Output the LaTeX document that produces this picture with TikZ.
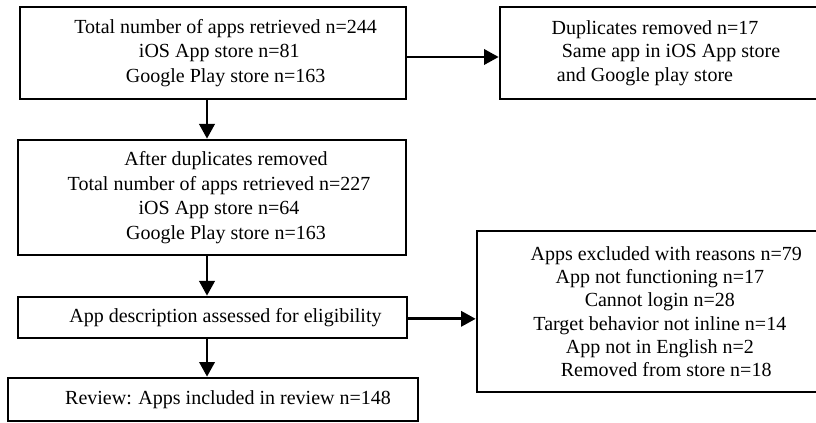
\documentclass[tikz,border=0pt]{standalone}
\usepackage{fontspec}
\setmainfont{Liberation Serif}
\usetikzlibrary{arrows.meta}
\newcommand{\shiftln}[2]{\hspace*{#1}#2\hspace*{-#1}}
\tikzset{
  flowbox/.style={draw, line width=2pt, align=center, inner sep=0pt,
    font=\fontsize{15}{18.5}\selectfont},
  sidebox/.style={flowbox, font=\fontsize{15}{17.5}\selectfont},
  flowarrow/.style={line width=2pt, -{Triangle[length=11pt,width=11.5pt]}}
}
\begin{document}
\begin{tikzpicture}[x=.75pt,y=-.75pt]
\useasboundingbox (0,0) rectangle (816,423);
\clip (0,0) rectangle (816,423);
% main column
\node[flowbox,minimum width=289.5pt,minimum height=69pt] (total) at (213,53)
  {\shiftln{9.5pt}{Total number of apps retrieved n=244}\\
   \shiftln{9.5pt}{iOS App store n=81}\\
   \shiftln{9.5pt}{Google Play store n=163}};
\node[flowbox,minimum width=291pt,minimum height=86.25pt] (dedup) at (212,197.5)
  {\shiftln{10.5pt}{After duplicates removed}\\
   \shiftln{10.5pt}{Total number of apps retrieved n=227}\\
   \shiftln{10.5pt}{iOS App store n=64}\\
   \shiftln{10.5pt}{Google Play store n=163}};
\node[flowbox,minimum width=291.75pt,minimum height=30.75pt] (desc) at (212.5,317.5)
  {\shiftln{9.75pt}{App description assessed for eligibility}};
\node[flowbox,minimum width=307.5pt,minimum height=32.25pt] (review) at (213,399.5)
  {\shiftln{11.25pt}{Review: Apps included in review n=148}};
% side boxes
\node[sidebox,minimum width=247.5pt,minimum height=69pt] (dup) at (665,53)
  {\shiftln{-7.5pt}{Duplicates removed n=17}\\
   \shiftln{9pt}{Same app in iOS App store}\\
   \shiftln{-15pt}{and Google play store}};
\node[sidebox,minimum width=264.75pt,minimum height=120.75pt] (excl) at (653.5,311.5)
  {\shiftln{9.5pt}{Apps excluded with reasons n=79}\\
   \shiftln{9.5pt}{App not functioning n=17}\\
   \shiftln{9.5pt}{Cannot login n=28}\\
   \shiftln{9.5pt}{Target behavior not inline n=14}\\
   \shiftln{9.5pt}{App not in English n=2}\\
   \shiftln{9.5pt}{Removed from store n=18}};
% arrows
\draw[flowarrow] ([xshift=-4.5pt]total.south) -- ([xshift=-4.5pt]total.south |- dedup.north);
\draw[flowarrow] ([xshift=-3.75pt]dedup.south) -- ([xshift=-3.75pt]dedup.south |- desc.north);
\draw[flowarrow] ([xshift=-4.1pt]desc.south) -- ([xshift=-4.1pt]desc.south |- review.north);
\draw[flowarrow] ([yshift=-3pt]total.east) -- ([yshift=-3pt]dup.west);
\draw[flowarrow] ([yshift=-1pt]desc.east) -- ([yshift=-1pt]desc.east -| excl.west);
\end{tikzpicture}
\end{document}
